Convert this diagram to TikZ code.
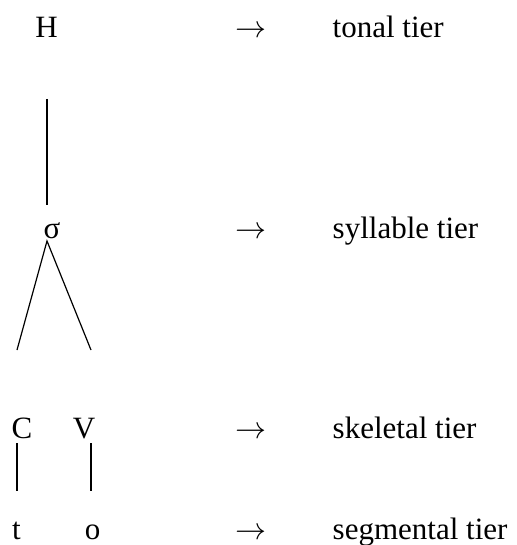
\RequirePackage{fix-cm}
\documentclass[tikz,border=0pt]{standalone}
\usepackage{fontspec}
\setmainfont{Liberation Serif}
\begin{document}
\begin{tikzpicture}[x=1pt,y=-1pt,
  lbl/.style={inner sep=0pt,anchor=base,font=\fontsize{31}{37}\selectfont},
  tier/.style={inner sep=0pt,anchor=base west,font=\fontsize{31}{37}\selectfont},
  assoc/.style={line width=1.2pt,line cap=butt}]
\useasboundingbox (0,0) rectangle (516,545);
% tier letters
\node[lbl] (H) at (46.5,37.3) {H};
\node[lbl] (sig) at (52,238.5) {σ};
\node[lbl] (C) at (22,438.3) {C};
\node[lbl] (V) at (84,438.3) {V};
\node[lbl] (t) at (16.5,539) {t};
\node[lbl] (o) at (92.5,539) {o};
% arrows
\node[lbl] (a1) at (251,37.3) {\(\rightarrow\)};
\node[lbl] (a2) at (251,238.5) {\(\rightarrow\)};
\node[lbl] (a3) at (251,438.3) {\(\rightarrow\)};
\node[lbl] (a4) at (251,539) {\(\rightarrow\)};
% tier names
\node[tier] (n1) at (332.5,37.3) {tonal tier};
\node[tier] (n2) at (332.5,238.5) {syllable tier};
\node[tier] (n3) at (332.5,438.3) {skeletal tier};
\node[tier] (n4) at (332.5,539) {segmental tier};
% connector end points
\coordinate (Hs) at (47,99);
\coordinate (Se) at (47,205);
\coordinate (apex) at (47,241);
\coordinate (Cl) at (17,350);
\coordinate (Vr) at (91,350);
\coordinate (Cb) at (17,443);
\coordinate (tb) at (17,491);
\coordinate (Vb) at (91,443);
\coordinate (ob) at (91,491);
% association lines
\draw[assoc] (Hs) -- (Se);
\draw[assoc] (Cl) -- (apex) -- (Vr);
\draw[assoc] (Cb) -- (tb);
\draw[assoc] (Vb) -- (ob);
\end{tikzpicture}
\end{document}
